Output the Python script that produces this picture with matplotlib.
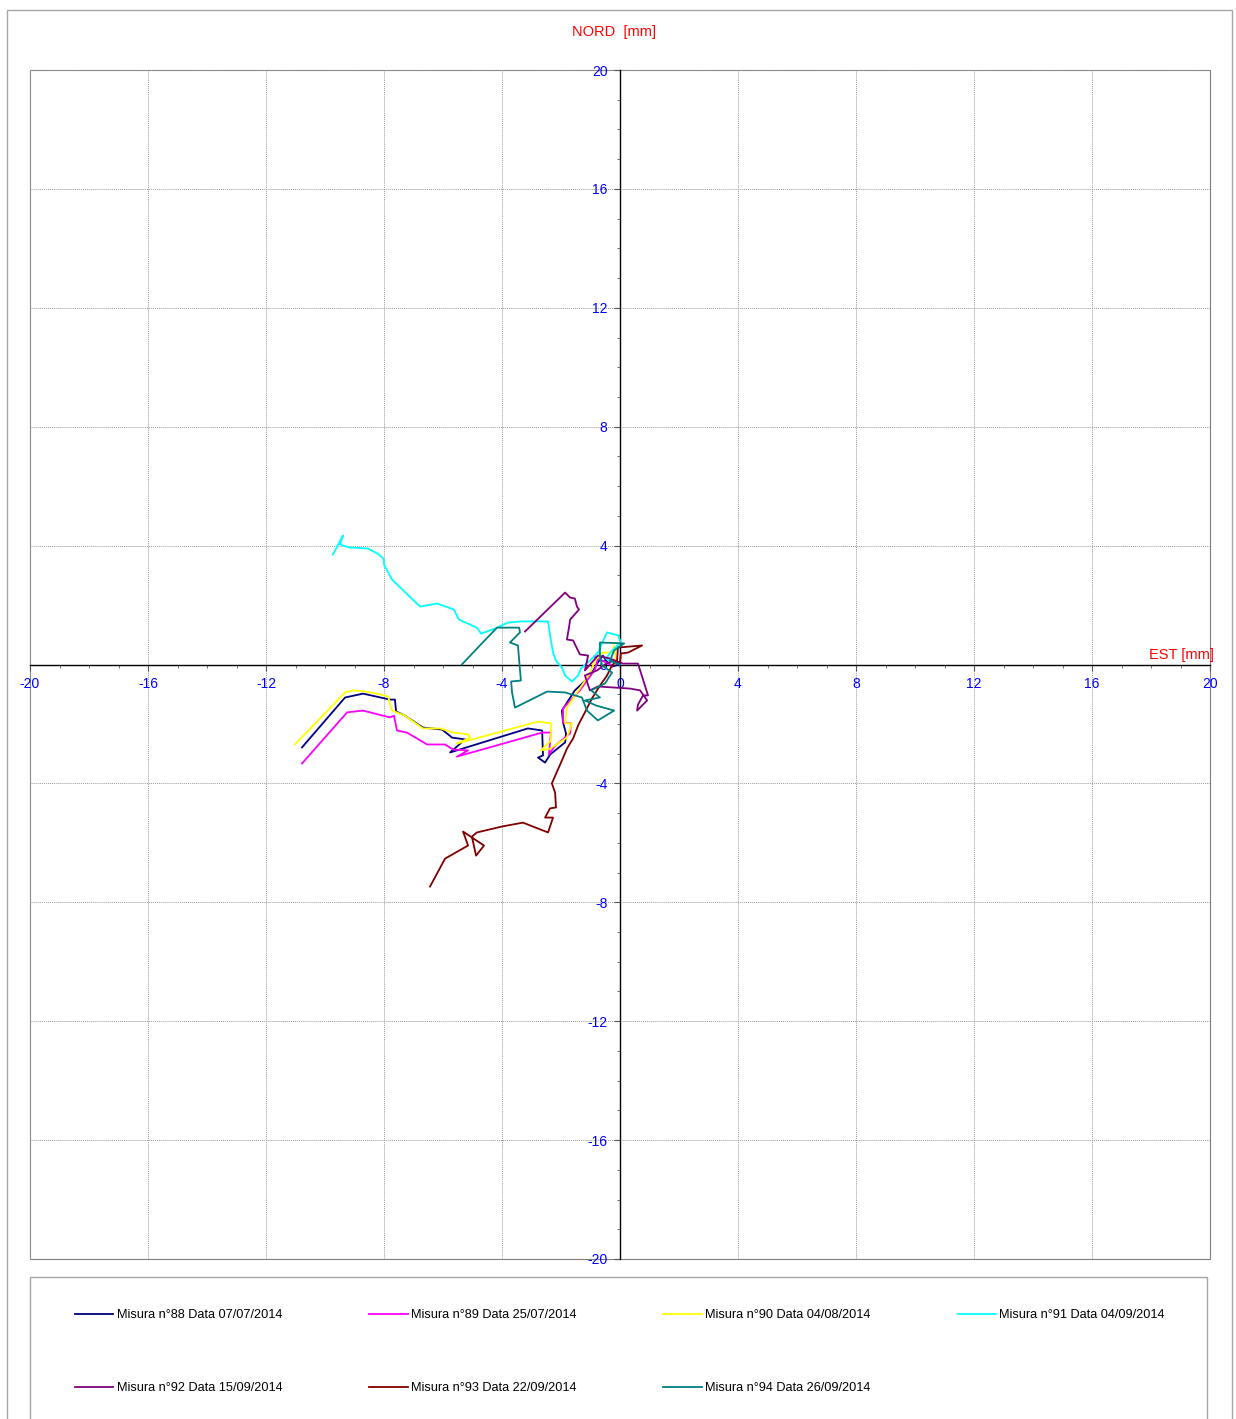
import matplotlib
matplotlib.use("Agg")
import matplotlib.pyplot as plt
from matplotlib.patches import Rectangle
from matplotlib.ticker import MultipleLocator

plt.rcParams['font.family'] = ['Liberation Sans', 'DejaVu Sans']
plt.rcParams['axes.unicode_minus'] = False

# displacement traces (EST, NORD) in mm
est_88 = [-10.78, -9.32, -8.71, -7.80, -7.63, -7.59, -7.29, -6.68, -6.03, -5.69, -5.25, -5.76,
          -3.12, -2.64, -2.61, -2.78, -2.54, -2.37, -1.86, -1.83, -1.93, -1.97, -1.53, -1.02,
          -0.75, -0.58, -0.47, -0.27, -0.03]
nord_88 = [-2.79, -1.11, -0.98, -1.18, -1.18, -1.58, -1.72, -2.12, -2.19, -2.46, -2.52, -2.96,
           -2.15, -2.22, -3.06, -3.13, -3.30, -3.03, -2.62, -2.32, -1.95, -1.55, -0.87, -0.40,
           0.07, 0.30, 0.13, -0.07, 0.0]

est_89 = [-10.78, -9.25, -8.71, -7.80, -7.66, -7.56, -7.22, -6.54, -5.93, -5.66, -5.15, -5.53,
          -2.64, -2.34, -2.41, -2.20, -1.69, -1.66, -1.93, -1.93, -1.36, -0.85, -0.75, -0.88,
          -0.54, -0.27]
nord_89 = [-3.33, -1.61, -1.55, -1.78, -1.72, -2.22, -2.29, -2.69, -2.69, -2.86, -2.89, -3.10,
           -2.29, -2.29, -3.03, -2.73, -2.32, -1.98, -1.95, -1.48, -0.87, -0.17, 0.20, 0.27,
           0.10, -0.03]

est_90 = [-11.02, -9.32, -9.05, -8.64, -8.24, -7.86, -7.73, -7.29, -6.68, -6.10, -5.66, -5.15,
          -5.08, -5.53, -2.78, -2.34, -2.34, -2.68, -2.37, -1.80, -1.63, -1.86, -1.80, -1.25,
          -1.02, -0.85, -0.58, -0.27, -0.20, -0.14]
nord_90 = [-2.69, -0.94, -0.87, -0.91, -0.98, -1.08, -1.55, -1.72, -2.15, -2.15, -2.29, -2.35,
           -2.46, -2.66, -1.92, -1.98, -2.56, -2.89, -2.83, -2.46, -1.98, -1.98, -1.45, -0.64,
           -0.30, 0.13, 0.40, 0.40, 0.64, 0.13]

est_91 = [-9.73, -9.39, -9.49, -9.19, -8.54, -8.17, -8.00, -8.00, -7.73, -6.78, -6.20, -5.63,
          -5.46, -4.85, -4.71, -4.24, -3.80, -3.32, -2.44, -2.37, -2.27, -2.17, -1.97, -1.86,
          -1.63, -1.42, -1.32, -1.02, -0.75, -0.44, -0.07, 0.03, -0.27, -0.47, -0.27]
nord_91 = [3.70, 4.34, 4.04, 3.94, 3.90, 3.70, 3.53, 3.36, 2.86, 1.95, 2.05, 1.85,
           1.51, 1.24, 1.04, 1.21, 1.41, 1.45, 1.45, 0.98, 0.40, 0.13, -0.10, -0.37,
           -0.57, -0.37, -0.13, 0.13, 0.40, 1.08, 0.98, 0.74, 0.47, 0.20, 0.07]

est_92 = [-3.22, -1.86, -1.69, -1.53, -1.46, -1.39, -1.69, -1.73, -1.80, -1.59, -1.36, -1.08,
          -1.19, -0.75, -0.34, 0.10, 0.61, 0.95, 0.78, 0.61, 0.58, 0.92, 0.68, 0.34,
          -0.27, -0.75, -1.02, -1.19, -0.78, -0.51, -0.24, 0.0]
nord_92 = [1.11, 2.42, 2.25, 2.22, 1.95, 1.85, 1.51, 1.24, 0.84, 0.81, 0.34, 0.30,
           -0.20, 0.30, 0.20, 0.03, 0.03, -1.04, -1.04, -1.35, -1.55, -1.21, -0.87, -0.81,
           -0.77, -0.74, -0.87, -0.37, -0.20, 0.0, 0.13, 0.0]

est_93 = [-6.44, -5.93, -5.15, -5.32, -4.61, -4.88, -5.02, -4.85, -4.00, -3.29, -2.44, -2.27,
          -2.54, -2.37, -2.17, -2.20, -2.31, -1.97, -1.80, -1.59, -1.42, -1.19, -0.95, -0.68,
          -0.44, -0.27, -0.10, -0.07, 0.75, 0.27, 0.03, 0.0]
nord_93 = [-7.47, -6.53, -6.09, -5.62, -6.09, -6.43, -5.79, -5.65, -5.45, -5.32, -5.65, -5.15,
           -5.15, -4.84, -4.81, -4.31, -4.00, -3.23, -2.83, -2.49, -2.05, -1.61, -1.14, -0.71,
           -0.37, -0.03, 0.13, 0.57, 0.64, 0.40, 0.37, 0.07]

est_94 = [-5.36, -4.75, -4.17, -3.42, -3.39, -3.73, -3.46, -3.36, -3.69, -3.66, -3.56, -2.47,
          -1.86, -1.29, -1.12, -0.75, -0.20, -0.81, -1.19, -0.68, -0.98, -0.51, -0.27, -0.61,
          -0.68, -0.68, 0.14, -0.20, -0.34, 0.0]
nord_94 = [0.0, 0.64, 1.24, 1.24, 1.08, 0.74, 0.64, -0.54, -0.57, -0.94, -1.45, -0.91,
           -0.94, -1.11, -1.55, -1.88, -1.55, -1.38, -1.21, -1.11, -0.87, -0.64, -0.27, -0.03,
           0.30, 0.74, 0.71, 0.47, 0.13, 0.0]

labels = ["Misura n°88 Data 07/07/2014", "Misura n°89 Data 25/07/2014",
          "Misura n°90 Data 04/08/2014", "Misura n°91 Data 04/09/2014",
          "Misura n°92 Data 15/09/2014", "Misura n°93 Data 22/09/2014",
          "Misura n°94 Data 26/09/2014"]
colors = ["#000080", "#ff00ff", "#ffff00", "#00ffff", "#800080", "#800000", "#008080"]

series = [(est_88, nord_88), (est_89, nord_89), (est_90, nord_90), (est_91, nord_91),
          (est_92, nord_92), (est_93, nord_93), (est_94, nord_94)]

W, H = 1236, 1419
fig = plt.figure(figsize=(W / 100, H / 100), dpi=100)
ax = fig.add_axes([30 / W, 1 - 1259 / H, 1180 / W, 1189 / H])

lines = []
for (xs, ys), lab, col in zip(series, labels, colors):
    ln, = ax.plot(xs, ys, color=col, lw=1.3, label=lab, zorder=3)
    lines.append(ln)

ax.set_xlim(-20, 20)
ax.set_ylim(-20, 20)
ax.xaxis.set_major_locator(MultipleLocator(4))
ax.yaxis.set_major_locator(MultipleLocator(4))
ax.xaxis.set_minor_locator(MultipleLocator(1))
ax.yaxis.set_minor_locator(MultipleLocator(1))

ax.spines['left'].set_position('zero')
ax.spines['bottom'].set_position('zero')
ax.spines['right'].set_visible(False)
ax.spines['top'].set_visible(False)
for s in ['left', 'bottom']:
    ax.spines[s].set_color('black')
    ax.spines[s].set_linewidth(1.0)

ax.tick_params(which='major', direction='out', length=4, width=0.8, color='#555555',
               labelcolor='#0000ff', labelsize=10, pad=5)
ax.tick_params(which='minor', direction='out', length=2.5, width=0.6, color='#555555')

ax.grid(True, which='major', color='#9a9a9a', linestyle=(0, (1, 1)), linewidth=0.7, zorder=0)
ax.add_patch(Rectangle((0, 0), 1, 1, transform=ax.transAxes, fill=False,
                       ec='#7f7f7f', lw=0.8, clip_on=False, zorder=1))

fig.text(614 / W, 1 - 32 / H, "NORD  [mm]", color='red', ha='center', va='center', fontsize=10.5)
fig.text(1214 / W, 1 - 655 / H, "EST [mm]", color='red', ha='right', va='center', fontsize=10.5)

# outer frame and legend box
fig.add_artist(Rectangle((7 / W, -0.01), (1232 - 7) / W, (H - 10) / H + 0.01,
                         transform=fig.transFigure, fill=False, ec='#a6a6a6', lw=1.0))
fig.add_artist(Rectangle((30 / W, -0.01), (1207 - 30) / W, (H - 1277) / H + 0.01,
                         transform=fig.transFigure, fill=False, ec='#a6a6a6', lw=1.0))

# row-major order in a 4-column legend
order = [0, 4, 1, 5, 2, 6, 3]
fig.legend([lines[i] for i in order], [labels[i] for i in order],
           loc='upper left', bbox_to_anchor=(75 / W, 1 - 1309 / H), ncol=4,
           frameon=False, fontsize=9.2, handlelength=3.0, handletextpad=0.25,
           columnspacing=6.82, labelspacing=4.8, borderpad=0, borderaxespad=0)

fig.savefig("out.png", dpi=100)
